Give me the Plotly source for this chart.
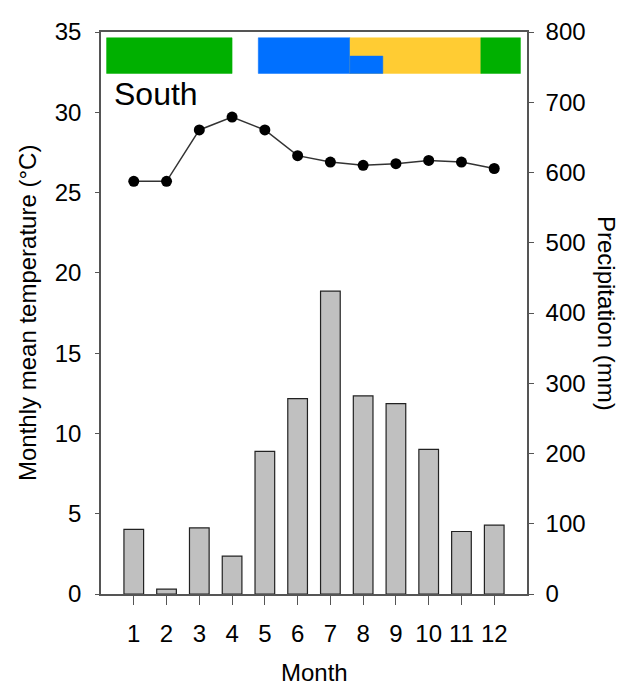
import plotly.graph_objects as go

months = list(range(1, 13))
temperature = [25.7, 25.7, 28.9, 29.7, 28.9, 27.3, 26.9, 26.7, 26.8, 27.0, 26.9, 26.5]
precipitation = [92, 7, 94, 54, 203, 278, 431, 282, 271, 206, 89, 98]

# seasonal bands at top of the panel (month-axis spans, temperature-axis heights)
band_x0 = [0.17, 4.8, 7.6, 7.6, 11.59]
band_x1 = [4.0, 7.6, 11.59, 8.6, 12.8]
band_y0 = [32.42, 32.42, 32.42, 32.42, 32.42]
band_y1 = [34.64, 34.64, 34.64, 33.5, 34.64]
band_color = ["#00B000", "#0070FF", "#FFCC33", "#0070FF", "#00B000"]

temp_ticks = [0, 5, 10, 15, 20, 25, 30, 35]
precip_ticks = [0, 100, 200, 300, 400, 500, 600, 700, 800]

FONT = "Arial, Liberation Sans, sans-serif"
AX = "#555555"
FS = 24

fig = go.Figure()
fig.add_trace(go.Bar(
    x=months, y=precipitation, yaxis="y2", width=0.6,
    marker=dict(color="#C0C0C0", line=dict(color="#222222", width=1.2)),
    showlegend=False,
))
fig.add_trace(go.Scatter(
    x=months, y=temperature, yaxis="y", mode="lines+markers",
    line=dict(color="#333333", width=1.5),
    marker=dict(color="black", size=11),
    showlegend=False,
))

for x0, x1, y0, y1, c in zip(band_x0, band_x1, band_y0, band_y1, band_color):
    fig.add_shape(type="rect", xref="x", yref="y", x0=x0, x1=x1, y0=y0, y1=y1,
                  fillcolor=c, line=dict(color=c, width=0.5), layer="above")

fig.update_layout(
    width=626, height=686,
    margin=dict(l=101, r=99, t=32, b=92),
    plot_bgcolor="white", paper_bgcolor="white",
    font=dict(family=FONT, size=FS, color="black"),
    bargap=0.4,
    xaxis=dict(
        range=[0, 13], tickvals=months, ticktext=[str(m) for m in months],
        showline=True, linecolor=AX, linewidth=1.5, mirror=True,
        ticks="outside", ticklen=9, tickcolor=AX, tickwidth=1.2,
        ticklabelstandoff=8, showgrid=False, zeroline=False,
        tickfont=dict(size=FS),
    ),
    yaxis=dict(
        range=[0, 35], tickvals=temp_ticks,
        showline=True, linecolor=AX, linewidth=1.5,
        ticks="outside", ticklen=4, tickcolor=AX, tickwidth=1.2,
        ticklabelstandoff=9, showgrid=False, zeroline=False,
        tickfont=dict(size=FS),
    ),
    yaxis2=dict(
        range=[0, 800], tickvals=precip_ticks, overlaying="y", side="right",
        showline=True, linecolor=AX, linewidth=1.5,
        ticks="outside", ticklen=5, tickcolor=AX, tickwidth=1.2,
        ticklabelstandoff=7, showgrid=False, zeroline=False,
        tickfont=dict(size=FS),
    ),
    annotations=[
        dict(text="South", xref="paper", yref="paper", x=0.026, y=0.8897,
             xanchor="left", yanchor="middle", showarrow=False,
             font=dict(size=32, family=FONT)),
        dict(text="Monthly mean temperature (°C)", xref="paper", yref="paper",
             x=0, y=0.5, xshift=-74, textangle=-90, xanchor="center",
             yanchor="middle", showarrow=False, font=dict(size=FS, family=FONT)),
        dict(text="Precipitation (mm)", xref="paper", yref="paper",
             x=1, y=0.5, xshift=80, textangle=90, xanchor="center",
             yanchor="middle", showarrow=False, font=dict(size=FS, family=FONT)),
        dict(text="Month", xref="paper", yref="paper", x=0.5, y=0, yshift=-78,
             xanchor="center", yanchor="middle", showarrow=False,
             font=dict(size=FS, family=FONT)),
    ],
)

fig.write_html("out.html")
